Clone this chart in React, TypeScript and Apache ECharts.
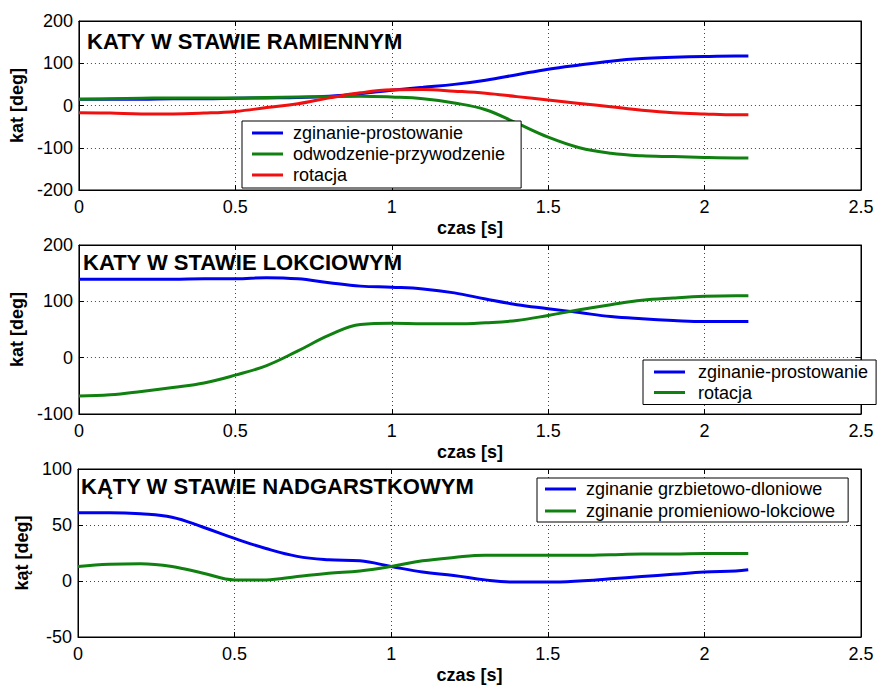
import React, { useEffect, useRef } from "react";
import * as echarts from "echarts";

// time axis [s]
const time = [0, 0.1, 0.2, 0.3, 0.4, 0.5, 0.6, 0.7, 0.8, 0.9, 1.0, 1.1, 1.2, 1.3, 1.4, 1.5, 1.6, 1.7, 1.8, 1.9, 2.0, 2.1, 2.14];

// Shoulder (ramię)
const shoulderFlex = [15, 15, 15, 16, 16, 17, 18, 19, 22, 28, 36, 43, 50, 60, 73, 86, 96, 105, 111, 114, 116, 117, 117];
const shoulderAbd = [15, 16, 17, 18, 18, 18, 19, 20, 21, 22, 20, 16, 6, -10, -42, -75, -100, -113, -119, -121, -123, -124, -124];
const shoulderRot = [-17, -18, -20, -20, -18, -14, -5, 4, 18, 30, 37, 38, 34, 29, 21, 13, 5, -3, -11, -17, -20, -22, -22];

// Elbow (łokieć)
const elbowFlex = [139, 139, 139, 139, 140, 140, 142, 140, 133, 127, 125, 122, 115, 104, 94, 87, 80, 73, 69, 66, 64, 64, 64];
const elbowRot = [-68, -66, -60, -53, -45, -31, -14, 12, 40, 59, 61, 60, 60, 62, 66, 75, 85, 94, 102, 106, 109, 110, 110];

// Wrist (nadgarstek)
const wristFlex = [61, 61, 60, 57, 48, 38, 29, 22, 19, 18, 13, 8, 5, 1, -1, -1, 0, 2, 4, 6, 8, 9, 10];
const wristRad = [13, 15, 15.5, 13, 7, 1, 1, 4, 7, 9, 13, 18, 21, 23, 23, 23, 23, 23.5, 24, 24, 24.5, 24.5, 24.5];

const xTicks = { min: 0, max: 2.5, interval: 0.5 };
const yTicks = [
  { min: -200, max: 200, interval: 100 },
  { min: -100, max: 200, interval: 100 },
  { min: -50, max: 100, interval: 50 },
];

const titles = ["KATY W STAWIE RAMIENNYM", "KATY W STAWIE LOKCIOWYM", "KĄTY W STAWIE NADGARSTKOWYM"];
const yNames = ["kat [deg]", "kat [deg]", "kąt [deg]"];
const xName = "czas [s]";

const legendLabels: Record<string, string> = {
  s_flex: "zginanie-prostowanie",
  s_abd: "odwodzenie-przywodzenie",
  s_rot: "rotacja",
  e_flex: "zginanie-prostowanie",
  e_rot: "rotacja",
  w_flex: "zginanie grzbietowo-dloniowe",
  w_rad: "zginanie promieniowo-lokciowe",
};

const BLUE = "#0000f0";
const GREEN = "#108010";
const RED = "#f01010";
const FONT = 'Arial, "Liberation Sans", Helvetica, sans-serif';

const pair = (ys: number[]) => time.map((t, i) => [t, ys[i]]);

export default function App() {
  const ref = useRef<HTMLDivElement>(null);
  useEffect(() => {
    if (!ref.current) return;
    const chart = echarts.init(ref.current, undefined, { renderer: "svg" });
    const grids = [
      { left: 78, right: 16, top: 21, height: 169 },
      { left: 78, right: 16, top: 245, height: 169 },
      { left: 78, right: 16, top: 469, height: 168 },
    ];
    const xAxes: any[] = [];
    const yAxes: any[] = [];
    const yNameGaps = [50, 50, 45];
    for (let i = 0; i < 3; i++) {
      xAxes.push({
        type: "value",
        gridIndex: i,
        ...xTicks,
        position: "bottom",
        axisLine: { show: true, onZero: false, lineStyle: { color: "#000", width: 1 } },
        axisTick: { show: true, inside: true, length: 5, lineStyle: { color: "#000" } },
        axisLabel: { fontSize: 18, color: "#000", margin: 8, fontFamily: FONT },
        splitLine: { show: true, lineStyle: { color: "#444", width: 1, type: [1, 3] } },
        name: xName,
        nameLocation: "middle",
        nameGap: 29,
        nameTextStyle: { fontSize: 18, fontWeight: "bold", color: "#000", fontFamily: FONT },
      });
      yAxes.push({
        type: "value",
        gridIndex: i,
        ...yTicks[i],
        position: "left",
        axisLine: { show: true, onZero: false, lineStyle: { color: "#000", width: 1 } },
        axisTick: { show: true, inside: true, length: 5, lineStyle: { color: "#000" } },
        axisLabel: { fontSize: 18, color: "#000", margin: 6, fontFamily: FONT },
        splitLine: { show: true, lineStyle: { color: "#444", width: 1, type: [1, 3] } },
        name: yNames[i],
        nameLocation: "middle",
        nameRotate: 90,
        nameGap: yNameGaps[i],
        nameTextStyle: { fontSize: 18, fontWeight: "bold", color: "#000", fontFamily: FONT },
      });
    }
    for (let i = 0; i < 3; i++) {
      xAxes.push({
        type: "value",
        gridIndex: i,
        ...xTicks,
        position: "top",
        axisLine: { show: true, onZero: false, lineStyle: { color: "#000", width: 1 } },
        axisTick: { show: true, inside: true, length: 5, lineStyle: { color: "#000" } },
        axisLabel: { show: false },
        splitLine: { show: false },
      });
      yAxes.push({
        type: "value",
        gridIndex: i,
        ...yTicks[i],
        position: "right",
        axisLine: { show: true, onZero: false, lineStyle: { color: "#000", width: 1 } },
        axisTick: { show: true, inside: true, length: 5, lineStyle: { color: "#000" } },
        axisLabel: { show: false },
        splitLine: { show: false },
      });
    }
    const line = (name: string, data: number[], color: string, idx: number) => ({
      type: "line",
      name,
      xAxisIndex: idx,
      yAxisIndex: idx,
      data: pair(data),
      smooth: 0.4,
      showSymbol: false,
      symbol: "none",
      lineStyle: { color, width: 3 },
      itemStyle: { color },
      z: 3,
    });
    const legendBase = {
      orient: "vertical",
      icon: "rect",
      itemWidth: 31,
      itemHeight: 3,
      backgroundColor: "#fff",
      borderColor: "#000",
      borderWidth: 1,
      borderRadius: 0,
      selectedMode: false,
      formatter: (n: string) => legendLabels[n] || n,
      textStyle: { fontSize: 18, color: "#000", fontFamily: FONT },
      z: 10,
    };
    chart.setOption({
      animation: false,
      backgroundColor: "#fff",
      grid: grids.map((g) => ({ ...g, show: true, borderColor: "#000", borderWidth: 1, backgroundColor: "transparent" })),
      xAxis: xAxes,
      yAxis: yAxes,
      title: [
        { text: titles[0], left: 87, top: 30 },
        { text: titles[1], left: 83, top: 251 },
        { text: titles[2], left: 81, top: 475 },
      ].map((t) => ({
        ...t,
        padding: 0,
        textStyle: { fontSize: 22, fontWeight: "bold", color: "#000", fontFamily: FONT },
      })),
      legend: [
        {
          ...legendBase,
          data: ["s_flex", "s_abd", "s_rot"],
          left: 242,
          top: 121,
          padding: [3, 16, 4, 10],
          itemGap: 3,
          textStyle: { ...legendBase.textStyle, padding: [0, 0, 0, 5] },
        },
        {
          ...legendBase,
          data: ["e_flex", "e_rot"],
          left: 643,
          top: 360,
          padding: [3, 8, 3, 11],
          itemGap: 2.5,
          textStyle: { ...legendBase.textStyle, padding: [0, 0, 0, 8] },
        },
        {
          ...legendBase,
          data: ["w_flex", "w_rad"],
          left: 537,
          top: 478,
          padding: [2, 13, 2, 8],
          itemGap: 4,
          textStyle: { ...legendBase.textStyle, padding: [0, 0, 0, 5] },
        },
      ],
      series: [
        line("s_flex", shoulderFlex, BLUE, 0),
        line("s_abd", shoulderAbd, GREEN, 0),
        line("s_rot", shoulderRot, RED, 0),
        line("e_flex", elbowFlex, BLUE, 1),
        line("e_rot", elbowRot, GREEN, 1),
        line("w_flex", wristFlex, BLUE, 2),
        line("w_rad", wristRad, GREEN, 2),
      ],
    });
    return () => chart.dispose();
  }, []);
  return (
    <div
      ref={ref}
      style={{ position: "fixed", left: 0, top: 0, width: 877, height: 686, background: "#fff" }}
    />
  );
}
